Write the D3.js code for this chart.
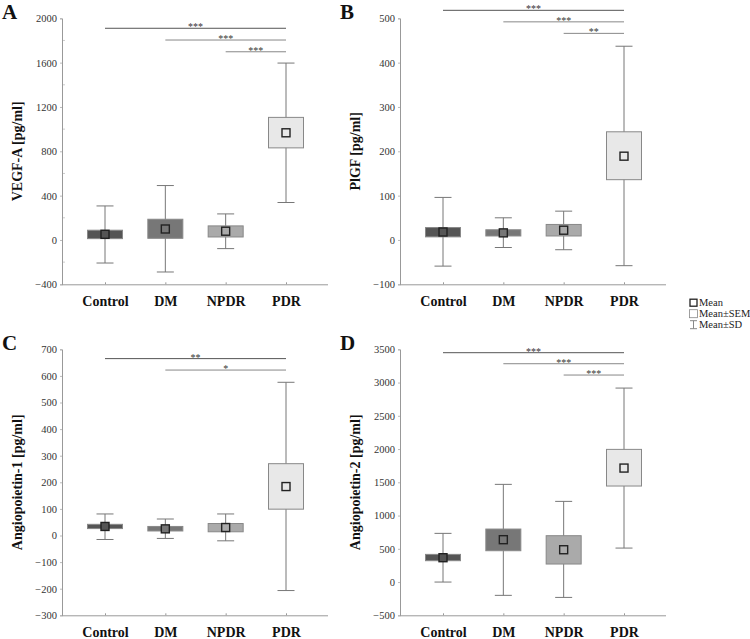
<!DOCTYPE html>
<html><head><meta charset="utf-8">
<script src="https://cdn.jsdelivr.net/npm/d3@7/dist/d3.min.js"></script>
<style>
html,body{margin:0;padding:0;background:#fff;}
svg{display:block;font-family:"Liberation Serif","Times New Roman",serif;}
</style></head>
<body>
<svg id="chart" width="750" height="639"></svg>
<script>
const categories = ["Control", "DM", "NPDR", "PDR"];
const fills = ["#555555", "#777777", "#aaaaaa", "#e8e8e8"];

// Panel A: VEGF-A
const vegfMean  = [51, 99, 79, 967];
const vegfSemLo = [12, 15, 27, 831];
const vegfSemHi = [88, 187, 127, 1106];
const vegfSdLo  = [-208, -289, -78, 338];
const vegfSdHi  = [307, 491, 235, 1596];
const vegfTicks = [-400, 0, 400, 800, 1200, 1600, 2000];
const vegfSigFrom = ["Control", "DM", "NPDR"];
const vegfSigLevel = [1910, 1804, 1698];
const vegfSigLabel = ["***", "***", "***"];

// Panel B: PlGF
const plgfMean  = [18, 16, 22, 189];
const plgfSemLo = [7, 9, 9, 136];
const plgfSemHi = [28, 23, 35, 244];
const plgfSdLo  = [-59, -17, -22, -58];
const plgfSdHi  = [96, 50, 65, 437];
const plgfTicks = [-100, 0, 100, 200, 300, 400, 500];
const plgfSigFrom = ["Control", "DM", "NPDR"];
const plgfSigLevel = [518, 492, 466];
const plgfSigLabel = ["***", "***", "**"];

// Panel C: Angiopoietin-1
const ang1Mean  = [34, 25, 30, 184];
const ang1SemLo = [26, 17, 14, 99];
const ang1SemHi = [42, 34, 45, 270];
const ang1SdLo  = [-15, -11, -20, -207];
const ang1SdHi  = [81, 62, 81, 576];
const ang1Ticks = [-300, -200, -100, 0, 100, 200, 300, 400, 500, 600, 700];
const ang1SigFrom = ["Control", "DM"];
const ang1SigLevel = [665, 622];
const ang1SigLabel = ["**", "*"];

// Panel D: Angiopoietin-2
const ang2Mean  = [366, 637, 486, 1714];
const ang2SemLo = [321, 471, 271, 1444];
const ang2SemHi = [416, 797, 697, 1995];
const ang2SdLo  = [0, -200, -231, 511];
const ang2SdHi  = [732, 1469, 1213, 2917];
const ang2Ticks = [-500, 0, 500, 1000, 1500, 2000, 2500, 3000, 3500];
const ang2SigFrom = ["Control", "DM", "NPDR"];
const ang2SigLevel = [3449, 3283, 3113];
const ang2SigLabel = ["***", "***", "***"];

const svg = d3.select("#chart");

function panel(cfg) {
  const x0 = cfg.x0, x1 = cfg.x0 + 266, yT = cfg.yTop, yB = cfg.yTop + 266;
  const x = d3.scalePoint().domain(categories).range([x0 + 43, x0 + 224]);
  const y = d3.scaleLinear().domain([cfg.ticks[0], cfg.ticks[cfg.ticks.length - 1]]).range([yB, yT]);
  const g = svg.append("g");

  // minor ticks
  if (cfg.minor) {
    const step = cfg.ticks[1] - cfg.ticks[0];
    cfg.ticks.slice(0, -1).forEach(t => {
      g.append("line").attr("x1", x0).attr("x2", x0 + 3)
        .attr("y1", y(t + step / 2)).attr("y2", y(t + step / 2))
        .attr("stroke", "#cccccc").attr("stroke-width", 1);
    });
  }

  // y axis
  const ya = g.append("g").attr("transform", `translate(${x0},0)`)
    .call(d3.axisLeft(y).tickValues(cfg.ticks).tickSize(2).tickFormat(d3.format("d")));
  ya.select(".domain").attr("stroke", "#999");
  ya.selectAll(".tick line").attr("stroke", "#bbb");
  ya.selectAll(".tick text").attr("font-size", 10.5).attr("fill", "#333")
    .attr("font-family", "Liberation Serif, serif").attr("x", -5);

  // x axis
  const xa = g.append("g").attr("transform", `translate(0,${yB})`)
    .call(d3.axisBottom(x).tickSize(-2).tickSizeOuter(0));
  xa.select(".domain").attr("stroke", "#999").attr("d", `M${x0},0.5H${x1}`);
  xa.selectAll(".tick line").attr("stroke", "#999");
  xa.selectAll(".tick text").attr("font-size", 14).attr("font-weight", "bold")
    .attr("fill", "#111").attr("font-family", "Liberation Serif, serif").attr("y", 12);

  // y title
  g.append("text").attr("transform", `translate(${x0 - 45},${(yT + yB) / 2}) rotate(-90)`)
    .attr("text-anchor", "middle").attr("dy", "0.35em")
    .attr("font-size", 14).attr("font-weight", "bold").attr("fill", "#111")
    .text(cfg.title);

  // panel letter
  g.append("text").attr("x", x0 - 60).attr("y", yT + 0.5)
    .attr("font-size", 21).attr("font-weight", "bold").attr("fill", "#111")
    .text(cfg.letter);

  const bw = 35, cw = 17;
  categories.forEach((c, i) => {
    const cx = x(c);
    // whisker
    g.append("line").attr("x1", cx).attr("x2", cx)
      .attr("y1", y(cfg.sdHi[i])).attr("y2", y(cfg.sdLo[i]))
      .attr("stroke", "#777").attr("stroke-width", 1);
    [cfg.sdHi[i], cfg.sdLo[i]].forEach(v => {
      g.append("line").attr("x1", cx - cw / 2).attr("x2", cx + cw / 2)
        .attr("y1", y(v)).attr("y2", y(v)).attr("stroke", "#777").attr("stroke-width", 1);
    });
    // SEM box
    g.append("rect").attr("x", cx - bw / 2).attr("width", bw)
      .attr("y", y(cfg.semHi[i])).attr("height", y(cfg.semLo[i]) - y(cfg.semHi[i]))
      .attr("fill", fills[i]).attr("stroke", "#888").attr("stroke-width", 1);
    // mean marker
    g.append("rect").attr("x", cx - 4).attr("y", y(cfg.mean[i]) - 4)
      .attr("width", 8).attr("height", 8)
      .attr("fill", fills[i]).attr("stroke", "#222").attr("stroke-width", 1.4);
  });

  // significance lines
  cfg.sigFrom.forEach((c, i) => {
    const ly = y(cfg.sigLevel[i]);
    g.append("line").attr("x1", x(c)).attr("x2", x("PDR")).attr("y1", ly).attr("y2", ly)
      .attr("stroke", i === 0 ? "#555" : "#888").attr("stroke-width", 1);
    g.append("text").attr("x", (x(c) + x("PDR")) / 2).attr("y", ly + 2)
      .attr("text-anchor", "middle").attr("font-size", 10).attr("fill", "#333")
      .text(cfg.sigLabel[i]);
  });
}

panel({x0: 62, yTop: 18.3, letter: "A", title: "VEGF-A [pg/ml]", ticks: vegfTicks, minor: true,
  mean: vegfMean, semLo: vegfSemLo, semHi: vegfSemHi, sdLo: vegfSdLo, sdHi: vegfSdHi,
  sigFrom: vegfSigFrom, sigLevel: vegfSigLevel, sigLabel: vegfSigLabel});
panel({x0: 400, yTop: 18.3, letter: "B", title: "PlGF [pg/ml]", ticks: plgfTicks, minor: false,
  mean: plgfMean, semLo: plgfSemLo, semHi: plgfSemHi, sdLo: plgfSdLo, sdHi: plgfSdHi,
  sigFrom: plgfSigFrom, sigLevel: plgfSigLevel, sigLabel: plgfSigLabel});
panel({x0: 62, yTop: 349.3, letter: "C", title: "Angiopoietin-1 [pg/ml]", ticks: ang1Ticks, minor: false,
  mean: ang1Mean, semLo: ang1SemLo, semHi: ang1SemHi, sdLo: ang1SdLo, sdHi: ang1SdHi,
  sigFrom: ang1SigFrom, sigLevel: ang1SigLevel, sigLabel: ang1SigLabel});
panel({x0: 400, yTop: 349.3, letter: "D", title: "Angiopoietin-2 [pg/ml]", ticks: ang2Ticks, minor: false,
  mean: ang2Mean, semLo: ang2SemLo, semHi: ang2SemHi, sdLo: ang2SdLo, sdHi: ang2SdHi,
  sigFrom: ang2SigFrom, sigLevel: ang2SigLevel, sigLabel: ang2SigLabel});

// legend
const lg = svg.append("g");
const legendLabels = ["Mean", "Mean±SEM", "Mean±SD"];
const ly0 = 302.7, ldy = 11;
lg.append("rect").attr("x", 690).attr("y", ly0 - 3.5).attr("width", 7).attr("height", 7)
  .attr("fill", "#fff").attr("stroke", "#222").attr("stroke-width", 1.3);
lg.append("rect").attr("x", 689.5).attr("y", ly0 + ldy - 4).attr("width", 8).attr("height", 8)
  .attr("fill", "#fff").attr("stroke", "#888").attr("stroke-width", 0.8);
const sy = ly0 + 2 * ldy;
lg.append("line").attr("x1", 693.5).attr("x2", 693.5).attr("y1", sy - 4).attr("y2", sy + 4).attr("stroke", "#888");
lg.append("line").attr("x1", 690).attr("x2", 697).attr("y1", sy - 4).attr("y2", sy - 4).attr("stroke", "#888");
lg.append("line").attr("x1", 690).attr("x2", 697).attr("y1", sy + 4).attr("y2", sy + 4).attr("stroke", "#888");
legendLabels.forEach((t, i) => {
  lg.append("text").attr("x", 699).attr("y", ly0 + i * ldy).attr("dy", "0.35em")
    .attr("font-size", 10.5).attr("fill", "#222").text(t);
});
</script>
</body></html>
